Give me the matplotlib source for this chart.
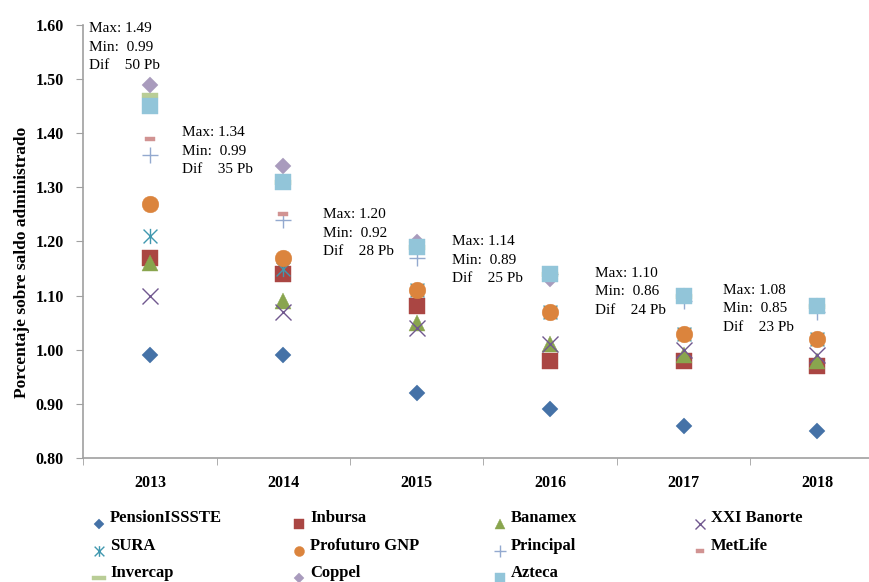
"""
Comisiones por Afore 2013-2018 (porcentaje sobre saldo administrado)
"""
import matplotlib
matplotlib.use('Agg')
import matplotlib.pyplot as plt
from matplotlib.path import Path

plt.rcParams['font.family'] = ['Liberation Serif', 'DejaVu Serif']

years = ['2013', '2014', '2015', '2016', '2017', '2018']
afores = ['PensionISSSTE', 'Inbursa', 'Banamex', 'XXI Banorte', 'SURA', 'Profuturo GNP',
          'Principal', 'MetLife', 'Invercap', 'Coppel', 'Azteca']

pension = [0.99, 0.99, 0.92, 0.89, 0.86, 0.85]
inbursa = [1.17, 1.14, 1.08, 0.98, 0.98, 0.97]
banamex = [1.16, 1.09, 1.05, 1.01, 0.99, 0.98]
banorte = [1.10, 1.07, 1.04, 1.01, 1.00, 0.99]
sura = [1.21, 1.15, 1.11, 1.07, 1.03, 1.02]
profuturo = [1.27, 1.17, 1.11, 1.07, 1.03, 1.02]
principal = [1.36, 1.24, 1.17, 1.14, 1.09, 1.07]
metlife = [1.39, 1.25, 1.19, 1.14, 1.10, 1.08]
invercap = [1.47, 1.31, 1.19, 1.14, 1.10, 1.08]
coppel = [1.49, 1.34, 1.20, 1.13, 1.10, 1.08]
azteca = [1.45, 1.31, 1.19, 1.14, 1.10, 1.08]

series = [pension, inbursa, banamex, banorte, sura, profuturo,
          principal, metlife, invercap, coppel, azteca]

# marker shapes
asterisk = Path([(-1, -1), (1, 1), (-1, 1), (1, -1), (0, -1.1), (0, 1.1)],
                [Path.MOVETO, Path.LINETO, Path.MOVETO, Path.LINETO, Path.MOVETO, Path.LINETO])
small_bar = [(-1, -0.45), (1, -0.45), (1, 0.45), (-1, 0.45), (-1, -0.45)]
flat_bar = [(-1, -0.3), (1, -0.3), (1, 0.3), (-1, 0.3), (-1, -0.3)]

# (marker, color, size, filled)
styles = [
    ('D', '#4572A7', 8.6, True),
    ('s', '#AA4643', 12, True),
    ('^', '#89A54E', 11.5, True),
    ('x', '#71588F', 11, False),
    (asterisk, '#4198AF', 11, False),
    ('o', '#DB843D', 12, True),
    ('+', '#93A9CF', 12, False),
    (small_bar, '#D19392', 6.5, True),
    (flat_bar, '#B9CD96', 12, True),
    ('D', '#A99BBD', 8.6, True),
    ('s', '#92C5D9', 12, True),
]

fig = plt.figure(figsize=(8.7, 5.82), dpi=100)
ax = fig.add_axes([83.3 / 870, 1 - 458 / 582, 800.4 / 870, 433 / 582])

x = list(range(len(years)))
for vals, (m, c, s, filled) in zip(series, styles):
    if filled:
        ax.plot(x, vals, linestyle='none', marker=m, markersize=s, color=c,
                markeredgecolor=c, markeredgewidth=0.3)
    else:
        ax.plot(x, vals, linestyle='none', marker=m, markersize=s, color=c,
                markeredgewidth=1.0)

ax.set_xlim(-0.5, 5.5)
ax.set_ylim(0.80, 1.60)
ax.set_yticks([0.8 + 0.1 * i for i in range(9)])
ax.set_yticklabels(['%.2f' % (0.8 + 0.1 * i) for i in range(9)], fontweight='bold', fontsize=11.5)
ax.set_xticks(x)
ax.set_xticklabels(years, fontweight='bold', fontsize=11.5)
ax.tick_params(axis='x', which='major', length=0, pad=12)
ax.set_xticks([i - 0.5 for i in range(7)], minor=True)
ax.tick_params(axis='x', which='minor', length=5, color='#A0A0A0', direction='out')
ax.tick_params(axis='y', length=5, color='#A0A0A0', direction='out', pad=9)
for side in ['top', 'right']:
    ax.spines[side].set_visible(False)
for side in ['left', 'bottom']:
    ax.spines[side].set_color('#A0A0A0')
    ax.spines[side].set_linewidth(1.2)

fig.text(22 / 870, 1 - 262 / 582, 'Porcentaje sobre saldo administrado', rotation=90,
         fontweight='bold', fontsize=12.5, ha='center', va='center')

# max / min annotations per year
note_x = [-0.455, 0.24, 1.30, 2.265, 3.333, 4.295]
note_y = [1.605, 1.413, 1.261, 1.212, 1.153, 1.122]
for i in range(len(years)):
    vals = [s[i] for s in series]
    hi, lo = max(vals), min(vals)
    dif = int(round((hi - lo) * 100))
    txt = 'Max: %.2f\nMin:  %.2f\nDif    %d Pb' % (hi, lo, dif)
    ax.text(note_x[i], note_y[i], txt, fontsize=11, ha='left', va='top', linespacing=1.55,
            clip_on=False)

# legend drawn by hand in 4 columns
lax = fig.add_axes([0, 0, 1, 1])
lax.set_xlim(0, 870)
lax.set_ylim(582, 0)
lax.axis('off')
leg_scale = [0.6, 0.6, 0.6, 0.7, 0.7, 0.6, 0.75, 0.8, 0.8, 0.6, 0.6]
for i, name in enumerate(afores):
    col, row = i % 4, i // 4
    px = 99 + col * 200.3
    py = 518.5 + row * 27.2
    m, c, s, filled = styles[i]
    lax.plot([px], [py + 5], linestyle='none', marker=m, markersize=s * leg_scale[i],
             color=c, markeredgecolor=c, markeredgewidth=0.3 if filled else 1.0)
    lax.text(px + 11, py, name, fontsize=12, fontweight='bold', ha='left', va='center')

fig.savefig('out.png', dpi=100)
